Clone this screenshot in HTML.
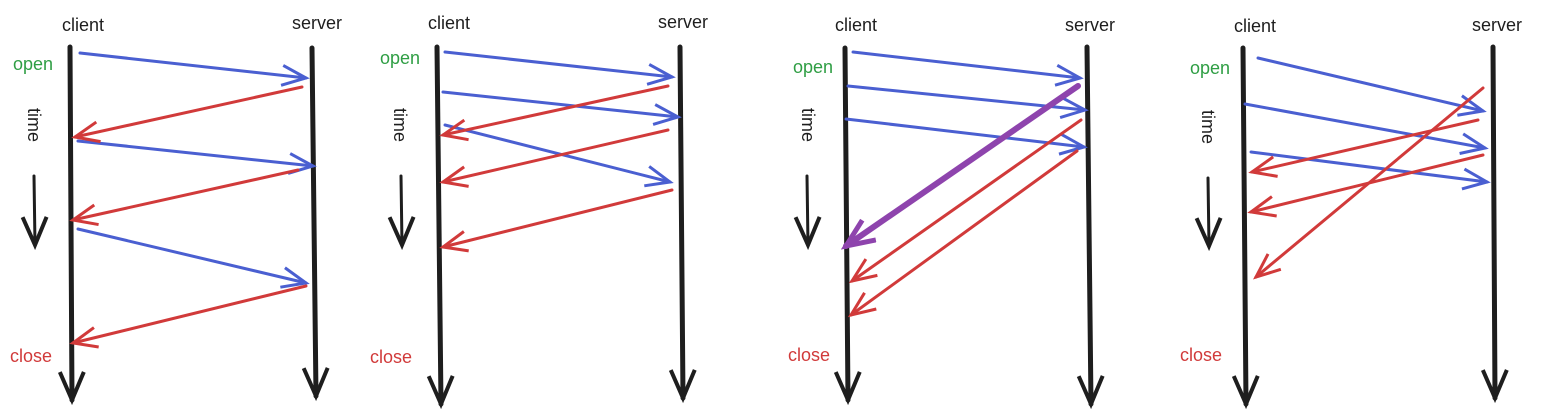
<!DOCTYPE html>
<html><head><meta charset="utf-8"><style>
html,body{margin:0;padding:0;background:#fff;}
svg{display:block;}
text{font-family:"Liberation Sans",sans-serif;font-size:18px;}
</style></head><body>
<svg width="1543" height="416" viewBox="0 0 1543 416" xmlns="http://www.w3.org/2000/svg">
<defs>
<marker id="mb" markerUnits="userSpaceOnUse" markerWidth="30" markerHeight="30" refX="26" refY="12" orient="auto"><path d="M2,2 L26,12 L2,22" fill="none" stroke="#4a5fd1" stroke-width="3"/></marker>
<marker id="mr" markerUnits="userSpaceOnUse" markerWidth="30" markerHeight="30" refX="26" refY="12" orient="auto"><path d="M2,2 L26,12 L2,22" fill="none" stroke="#d13a3a" stroke-width="3"/></marker>
<marker id="mp" markerUnits="userSpaceOnUse" markerWidth="36" markerHeight="36" refX="30" refY="14" orient="auto"><path d="M2,2 L30,14 L2,26" fill="none" stroke="#8e44ad" stroke-width="5"/></marker>
<marker id="mk" markerUnits="userSpaceOnUse" markerWidth="40" markerHeight="40" refX="30" refY="14" orient="auto"><path d="M2,2 L30,14 L2,26" fill="none" stroke="#1e1e1e" stroke-width="4"/></marker>
</defs>
<g fill="none" stroke-linecap="round">
<!-- lifelines -->
<g stroke="#1e1e1e" stroke-width="5" marker-end="url(#mk)">
<line x1="70" y1="47" x2="72" y2="400"/><line x1="312" y1="48" x2="316" y2="396"/>
<line x1="437" y1="47" x2="441" y2="404"/><line x1="680" y1="47" x2="683" y2="398"/>
<line x1="845" y1="48" x2="848" y2="400"/><line x1="1087" y1="47" x2="1091" y2="404"/>
<line x1="1243" y1="48" x2="1246" y2="404"/><line x1="1493" y1="47" x2="1495" y2="398"/>
</g>
<g stroke="#1e1e1e" stroke-width="3" marker-end="url(#mk)">
<line x1="34" y1="176" x2="35" y2="245"/><line x1="401" y1="176" x2="402" y2="245"/>
<line x1="807" y1="176" x2="808" y2="245"/><line x1="1208" y1="178" x2="1209" y2="246"/>
</g>
<!-- panel 1 -->
<g stroke="#4a5fd1" stroke-width="3" marker-end="url(#mb)">
<line x1="80" y1="53" x2="306" y2="78"/><line x1="78" y1="141" x2="313" y2="166"/><line x1="78" y1="229" x2="306" y2="283"/>
<line x1="445" y1="52" x2="672" y2="77"/><line x1="443" y1="92" x2="678" y2="117"/><line x1="445" y1="125" x2="670" y2="182"/>
<line x1="853" y1="52" x2="1080" y2="78"/><line x1="848" y1="86" x2="1085" y2="110"/><line x1="846" y1="119" x2="1084" y2="147"/>
<line x1="1258" y1="58" x2="1483" y2="111"/><line x1="1245" y1="104" x2="1485" y2="148"/><line x1="1251" y1="152" x2="1487" y2="182"/>
</g>
<g stroke="#d13a3a" stroke-width="3" marker-end="url(#mr)">
<line x1="302" y1="87" x2="75" y2="137"/><line x1="298" y1="170" x2="73" y2="220"/><line x1="306" y1="286" x2="73" y2="343"/>
<line x1="668" y1="86" x2="443" y2="135"/><line x1="668" y1="130" x2="443" y2="182"/><line x1="672" y1="190" x2="443" y2="247"/>
<line x1="1081" y1="120" x2="852" y2="281"/><line x1="1077" y1="151" x2="851" y2="315"/>
<line x1="1478" y1="120" x2="1252" y2="172"/><line x1="1483" y1="155" x2="1251" y2="212"/><line x1="1483" y1="88" x2="1256" y2="277"/>
</g>
<line x1="1078" y1="86" x2="846" y2="246" stroke="#8e44ad" stroke-width="6" marker-end="url(#mp)"/>
</g>
<!-- labels -->
<g fill="#1e1e1e">
<text x="62" y="31">client</text><text x="292" y="29">server</text>
<text x="428" y="29">client</text><text x="658" y="28">server</text>
<text x="835" y="31">client</text><text x="1065" y="31">server</text>
<text x="1234" y="32">client</text><text x="1472" y="31">server</text>
<text transform="translate(28,108) rotate(90)">time</text>
<text transform="translate(394,108) rotate(90)">time</text>
<text transform="translate(802,108) rotate(90)">time</text>
<text transform="translate(1202,110) rotate(90)">time</text>
</g>
<g fill="#2f9e44">
<text x="13" y="70">open</text><text x="380" y="64">open</text><text x="793" y="73">open</text><text x="1190" y="74">open</text>
</g>
<g fill="#d13a3a">
<text x="10" y="362">close</text><text x="370" y="363">close</text><text x="788" y="361">close</text><text x="1180" y="361">close</text>
</g>
</svg>
</body></html>
